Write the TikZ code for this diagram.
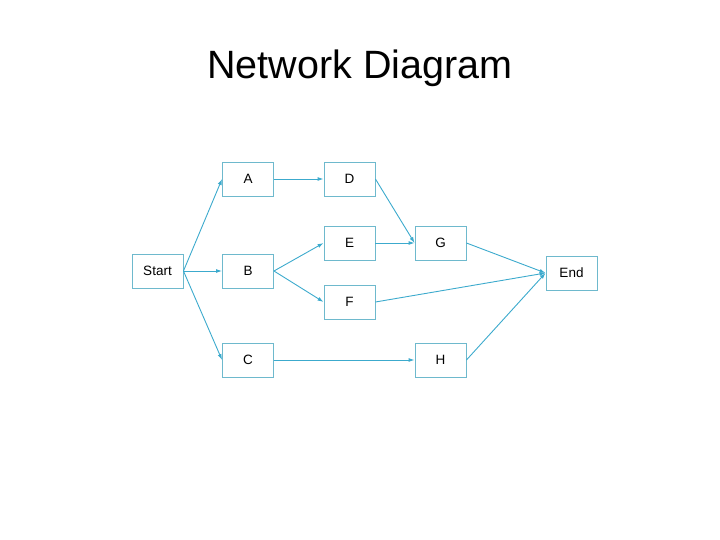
\documentclass[tikz,border=0pt]{standalone}
\usepackage{fontspec}
\setmainfont{Liberation Sans}
\usetikzlibrary{arrows.meta}
\definecolor{boxc}{RGB}{110,185,205}
\definecolor{arrc}{RGB}{60,170,205}
\begin{document}
\begin{tikzpicture}[x=1pt,y=-1pt,
  task/.style={draw=boxc,line width=0.9pt,minimum width=51pt,minimum height=34pt,inner sep=0pt,font=\fontsize{13.5}{15}\selectfont},
  link/.style={draw=arrc,line width=0.9pt,-{Latex[length=6pt,width=4pt]}}]
\useasboundingbox (0,0) rectangle (720,540);
\node[font=\fontsize{39.5}{42}\selectfont] (title) at (360,68) {Network Diagram};
\node[task] (start) at (157.5,271) {Start};
\node[task] (A) at (248,179) {A};
\node[task] (B) at (248,271) {B};
\node[task] (C) at (248,360) {C};
\node[task] (D) at (349.5,179) {D};
\node[task] (E) at (349.5,243) {E};
\node[task] (F) at (349.5,302) {F};
\node[task] (G) at (440.5,243) {G};
\node[task] (H) at (440.5,360) {H};
\node[task] (end) at (571.5,273) {End};
\draw[link] (start.east) -- (A.west);
\draw[link] (start.east) -- (B.west);
\draw[link] (start.east) -- (C.west);
\draw[link] (A.east) -- (D.west);
\draw[link] (B.east) -- (E.west);
\draw[link] (B.east) -- (F.west);
\draw[link] (C.east) -- (H.west);
\draw[link] (D.east) -- (G.west);
\draw[link] (E.east) -- (G.west);
\draw[link] (G.east) -- (end.west);
\draw[link] (F.east) -- (end.west);
\draw[link] (H.east) -- (end.west);
\end{tikzpicture}
\end{document}
